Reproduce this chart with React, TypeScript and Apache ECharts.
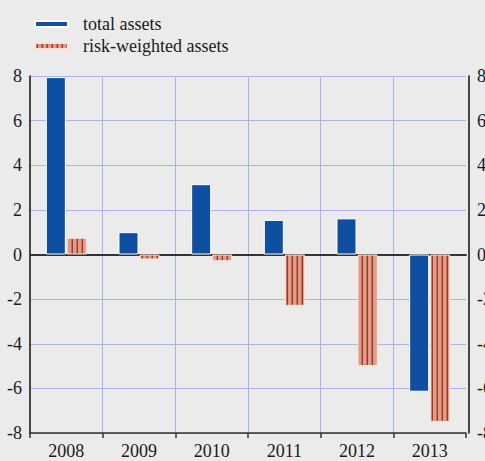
import React, { useEffect, useRef } from "react";
import * as echarts from "echarts";

const categories = ["2008", "2009", "2010", "2011", "2012", "2013"];
const totalAssets = [7.95, 1.0, 3.15, 1.55, 1.62, -6.15];
const riskWeightedAssets = [0.75, -0.22, -0.3, -2.3, -5.0, -7.5];
const seriesNames = ["total assets", "risk-weighted assets"];

const FONT = "'Liberation Serif', 'DejaVu Serif', serif";

function makeStripePattern() {
  const c = document.createElement("canvas");
  c.width = 5;
  c.height = 4;
  const ctx = c.getContext("2d")!;
  ctx.fillStyle = "#dd9d87";
  ctx.fillRect(0, 0, 5, 4);
  ctx.fillStyle = "#c4705e";
  ctx.fillRect(1, 0, 1, 4);
  ctx.fillStyle = "#a83427";
  ctx.fillRect(2, 0, 1, 4);
  return { image: c, repeat: "repeat", imageWidth: 5, imageHeight: 4 } as any;
}

export default function App() {
  const ref = useRef<HTMLDivElement>(null);
  useEffect(() => {
    document.body.style.margin = "0";
    document.body.style.overflow = "hidden";
    if (!ref.current) return;
    const chart = echarts.init(ref.current, undefined, { renderer: "svg" });
    const pattern = makeStripePattern();
    const labelStyle = { color: "#1a1a1a", fontSize: 18, fontFamily: FONT };
    chart.setOption({
      animation: false,
      backgroundColor: "#ebebeb",
      textStyle: { fontFamily: FONT },
      legend: {
        orient: "vertical",
        left: 29,
        top: 10,
        itemWidth: 33,
        itemHeight: 6,
        itemGap: 4,
        data: seriesNames,
        textStyle: { ...labelStyle, padding: [0, 0, 0, 10] },
      },
      grid: {
        left: 30,
        right: 19,
        top: 76,
        bottom: 28,
        containLabel: false,
        outerBoundsMode: "none",
      },
      xAxis: [
        {
          type: "category",
          data: categories,
          position: "bottom",
          axisLine: { onZero: false, lineStyle: { color: "#333", width: 1.5 } },
          axisTick: { show: true, length: 5, lineStyle: { color: "#333", width: 1.5 } },
          axisLabel: { ...labelStyle, margin: 9 },
          splitLine: {
            show: true,
            showMinLine: false,
            showMaxLine: false,
            lineStyle: { color: "#aab4e6", width: 1 },
          },
        },
        {
          type: "category",
          data: categories,
          position: "bottom",
          axisLine: { onZero: true, lineStyle: { color: "#333", width: 2 } },
          axisTick: { show: false },
          axisLabel: { show: false },
          splitLine: { show: false },
        },
      ],
      yAxis: [
        {
          type: "value",
          min: -8,
          max: 8,
          interval: 2,
          position: "left",
          axisLine: { show: true, lineStyle: { color: "#111", width: 1.5 } },
          axisTick: { show: false },
          axisLabel: { ...labelStyle, margin: 8 },
          splitLine: { show: true, lineStyle: { color: "#aab4e6", width: 1 } },
        },
        {
          type: "value",
          min: -8,
          max: 8,
          interval: 2,
          position: "right",
          offset: 3,
          axisLine: { show: true, lineStyle: { color: "#111", width: 1.5 } },
          axisTick: { show: false },
          axisLabel: { ...labelStyle, margin: 8 },
          splitLine: { show: false },
        },
      ],
      series: [
        {
          name: seriesNames[0],
          type: "bar",
          data: totalAssets,
          barWidth: 20,
          barGap: "5%",
          itemStyle: { color: "#0e4fa1", borderColor: "#ffffff", borderWidth: 1 },
        },
        {
          name: seriesNames[1],
          type: "bar",
          data: riskWeightedAssets,
          barWidth: 20,
          barGap: "5%",
          itemStyle: { color: pattern, borderColor: "#fbe3da", borderWidth: 1 },
        },
      ],
    });
    return () => chart.dispose();
  }, []);
  return <div ref={ref} style={{ width: 485, height: 461 }} />;
}
